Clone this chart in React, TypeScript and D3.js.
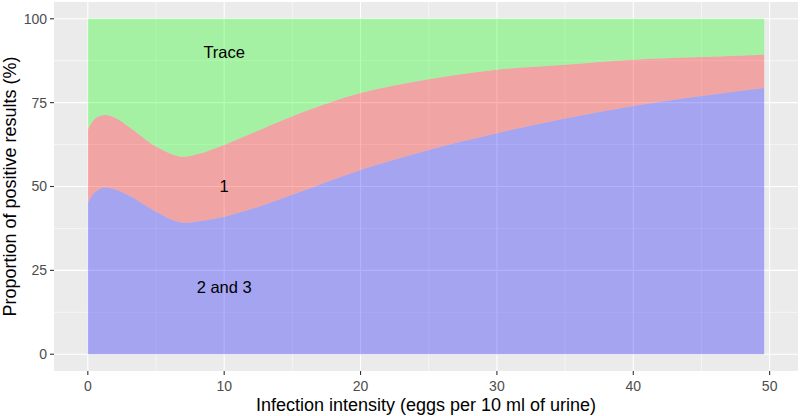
import * as d3 from 'd3';
import {useEffect, useRef} from 'react';

// infection intensity (eggs per 10 ml)
const intensity = [0, 0.5, 1.2, 2, 3.15, 5, 6.8, 8, 10, 12.7, 15.6, 20, 25, 30, 35, 40, 45, 49.6];
// share of positive results per category (%)
const share23 = [45, 48.2, 49.7, 49.1, 47, 42.5, 39.3, 39.6, 41, 44.2, 48.4, 54.9, 60.9, 65.9, 70.3, 74.0, 77.0, 79.4];
const share1 = [21.9, 21.9, 21.6, 21.4, 20.4, 19.4, 19.6, 20, 21.4, 22.8, 23.5, 23, 21.1, 18.9, 16, 13.8, 11.6, 9.9];
const shareTrace = share23.map((v, i) => 100 - v - share1[i]);

const categories = ['2 and 3', '1', 'Trace'];
const colors = ['#0000ff', '#ff0000', '#00ff00'];
const labels = [
  {text: 'Trace', x: 10, y: 90},
  {text: '1', x: 10, y: 50},
  {text: '2 and 3', x: 10, y: 20},
];
const xTicks = [0, 10, 20, 30, 40, 50];
const yTicks = [0, 25, 50, 75, 100];

export default function App() {
  const ref = useRef<SVGSVGElement>(null);

  useEffect(() => {
    const svg = d3.select(ref.current); svg.selectAll('*').remove();
    const panel = {left: 54, right: 798, top: 2, bottom: 371};
    const font = 'Liberation Sans, Arial, sans-serif';

    const x = d3.scaleLinear().domain([-2.48, 52.08]).range([panel.left, panel.right]);
    const y = d3.scaleLinear().domain([-5, 105]).range([panel.bottom, panel.top]);

    svg.append('rect').attr('x', panel.left).attr('y', panel.top)
      .attr('width', panel.right - panel.left).attr('height', panel.bottom - panel.top)
      .attr('fill', '#ebebeb');

    const g = svg.append('g');
    // minor grid
    [5, 15, 25, 35, 45].forEach(v => g.append('line')
      .attr('x1', x(v)).attr('x2', x(v)).attr('y1', panel.top).attr('y2', panel.bottom)
      .attr('stroke', '#fff').attr('stroke-width', 0.55));
    [12.5, 37.5, 62.5, 87.5].forEach(v => g.append('line')
      .attr('y1', y(v)).attr('y2', y(v)).attr('x1', panel.left).attr('x2', panel.right)
      .attr('stroke', '#fff').attr('stroke-width', 0.55));
    // major grid
    xTicks.forEach(v => g.append('line')
      .attr('x1', x(v)).attr('x2', x(v)).attr('y1', panel.top).attr('y2', panel.bottom)
      .attr('stroke', '#fff').attr('stroke-width', 1.1));
    yTicks.forEach(v => g.append('line')
      .attr('y1', y(v)).attr('y2', y(v)).attr('x1', panel.left).attr('x2', panel.right)
      .attr('stroke', '#fff').attr('stroke-width', 1.1));

    const rows = intensity.map((v, i) => ({x: v, '2 and 3': share23[i], '1': share1[i], 'Trace': shareTrace[i]}));
    const series = d3.stack<any>().keys(categories)(rows);

    const area = d3.area<any>()
      .x(d => x(d.data.x))
      .y0(d => y(d[0]))
      .y1(d => y(d[1]))
      .curve(d3.curveCatmullRom);

    svg.append('g').selectAll('path')
      .data(series)
      .enter()
      .append('path')
      .attr('d', area)
      .attr('fill', (_, i) => colors[i])
      .attr('fill-opacity', 0.3);

    labels.forEach(l => svg.append('text')
      .attr('x', x(l.x)).attr('y', y(l.y)).attr('dy', '0.35em')
      .attr('text-anchor', 'middle')
      .attr('font-family', font)
      .attr('font-size', '16.5px').attr('fill', '#000')
      .text(l.text));

    // axes
    const ax = svg.append('g').attr('font-family', font);
    xTicks.forEach(v => {
      ax.append('line').attr('x1', x(v)).attr('x2', x(v)).attr('y1', panel.bottom).attr('y2', panel.bottom + 4)
        .attr('stroke', '#333').attr('stroke-width', 1.1);
      ax.append('text').attr('x', x(v)).attr('y', panel.bottom + 20).attr('text-anchor', 'middle')
        .attr('font-size', '14px').attr('fill', '#4d4d4d').text(v);
    });
    yTicks.forEach(v => {
      ax.append('line').attr('x1', panel.left - 4).attr('x2', panel.left).attr('y1', y(v)).attr('y2', y(v))
        .attr('stroke', '#333').attr('stroke-width', 1.1);
      ax.append('text').attr('x', panel.left - 7).attr('y', y(v)).attr('dy', '0.35em').attr('text-anchor', 'end')
        .attr('font-size', '14px').attr('fill', '#4d4d4d').text(v);
    });

    ax.append('text').attr('x', 426).attr('y', 411).attr('text-anchor', 'middle')
      .attr('font-size', '18px').attr('fill', '#000').text('Infection intensity (eggs per 10 ml of urine)');
    ax.append('text').attr('transform', `translate(16, ${(panel.top + panel.bottom) / 2}) rotate(-90)`)
      .attr('text-anchor', 'middle')
      .attr('font-size', '18px').attr('fill', '#000').text('Proportion of positive results (%)');
  }, []);

  return <svg ref={ref} width={800} height={416} style={{position: 'absolute', left: 0, top: 0, background: '#fff'}} />;
}
